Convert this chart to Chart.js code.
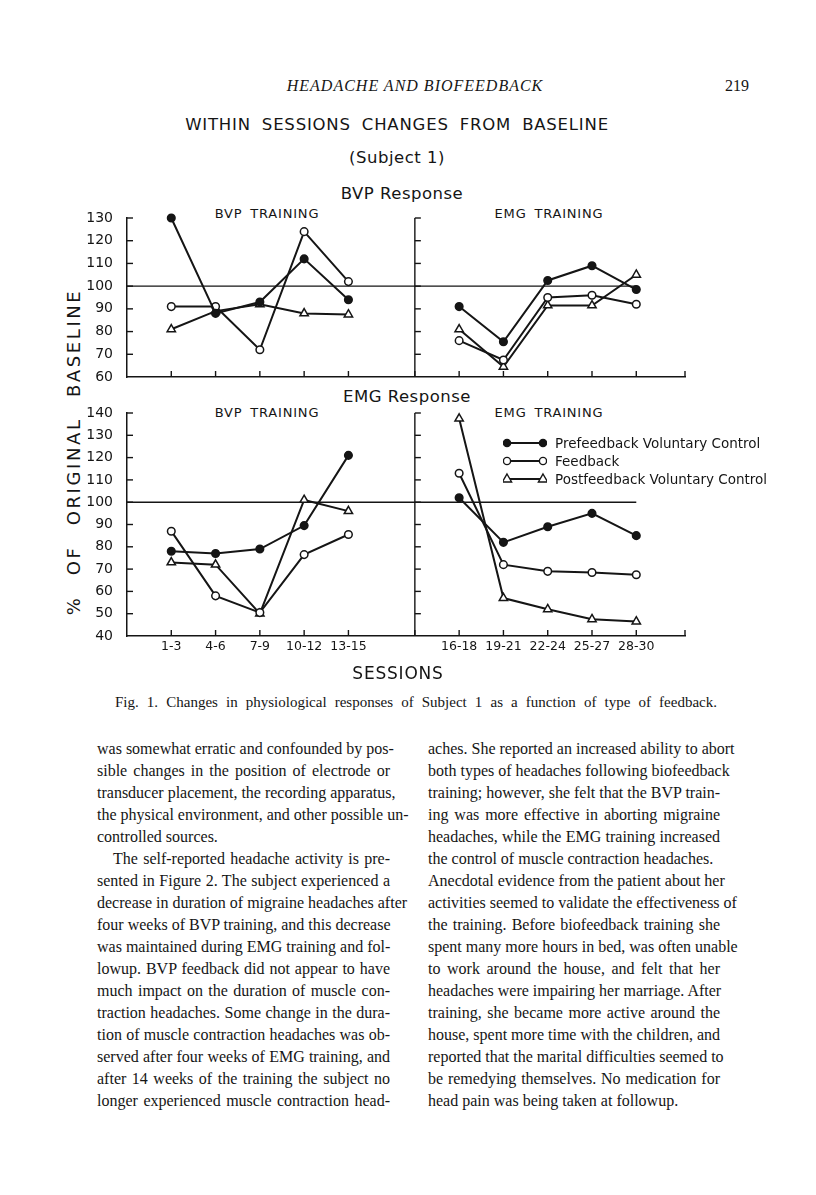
<!DOCTYPE html>
<html>
<head>
<meta charset="utf-8">
<script src="https://cdn.jsdelivr.net/npm/chart.js@4.4.1/dist/chart.umd.min.js"></script>
<style>
  body { margin: 0; background: #fff; }
  #page { position: relative; width: 816px; height: 1195px; overflow: hidden; color: #151515; font-family: "DejaVu Sans", sans-serif; }
  .t { position: absolute; white-space: nowrap; transform: translate(-50%, -50%); }
  .serif { font-family: "Liberation Serif", serif; }
  canvas { position: absolute; }
  .col { position: absolute; top: 738px; font-family: "Liberation Serif", serif; font-size: 16px; line-height: 22px; }
  .col div { white-space: nowrap; text-align: justify; text-align-last: justify; }
  .col div.end { text-align-last: left; }
  .col div.ind { padding-left: 16px; }
  .leg { position: absolute; left: 503px; font-size: 13.5px; }
  .leg div { height: 18px; display: flex; align-items: center; }
  .leg svg { margin-right: 8px; }
</style>
</head>
<body>
<div id="page">
  <div class="t serif" style="left:415px;top:86px;font-style:italic;font-size:16px;letter-spacing:1px;">HEADACHE AND BIOFEEDBACK</div>
  <div class="t serif" style="left:737px;top:86px;font-size:16px;">219</div>

  <div class="t" style="left:397px;top:124px;font-size:16.5px;letter-spacing:0.8px;word-spacing:5px;">WITHIN SESSIONS CHANGES FROM BASELINE</div>
  <div class="t" style="left:397px;top:157px;font-size:16.5px;letter-spacing:0.5px;">(Subject 1)</div>
  <div class="t" style="left:402px;top:193px;font-size:16.5px;letter-spacing:0.5px;">BVP Response</div>
  <div class="t" style="left:407px;top:396px;font-size:16.5px;letter-spacing:0.5px;">EMG Response</div>
  <div class="t" style="left:73px;top:452px;font-size:18px;letter-spacing:2.6px;word-spacing:12px;transform:translate(-50%,-50%) rotate(-90deg);">% OF ORIGINAL BASELINE</div>

  <div class="t" style="left:267px;top:213px;font-size:13px;letter-spacing:0.8px;word-spacing:3px;">BVP TRAINING</div>
  <div class="t" style="left:549px;top:213px;font-size:13px;letter-spacing:0.8px;word-spacing:3px;">EMG TRAINING</div>
  <div class="t" style="left:267px;top:412px;font-size:13px;letter-spacing:0.8px;word-spacing:3px;">BVP TRAINING</div>
  <div class="t" style="left:549px;top:412px;font-size:13px;letter-spacing:0.8px;word-spacing:3px;">EMG TRAINING</div>

  <canvas id="bvpChart" width="640" height="195" style="left:60px;top:195px;"></canvas>
  <canvas id="emgChart" width="640" height="270" style="left:60px;top:395px;"></canvas>

  <div class="leg" style="top:434px;" id="legend"></div>

  <div class="t" style="left:398px;top:673px;font-size:17px;letter-spacing:0.8px;">SESSIONS</div>
  <div class="serif" style="position:absolute;left:115px;top:694px;width:602px;font-size:15px;white-space:nowrap;text-align:justify;text-align-last:justify;">Fig. 1. Changes in physiological responses of Subject 1 as a function of type of feedback.</div>

  <div class="col" style="left:97px;width:293px;">
    <div>was somewhat erratic and confounded by pos-</div>
    <div>sible changes in the position of electrode or</div>
    <div>transducer placement, the recording apparatus,</div>
    <div>the physical environment, and other possible un-</div>
    <div class="end">controlled sources.</div>
    <div class="ind">The self-reported headache activity is pre-</div>
    <div>sented in Figure 2. The subject experienced a</div>
    <div>decrease in duration of migraine headaches after</div>
    <div>four weeks of BVP training, and this decrease</div>
    <div>was maintained during EMG training and fol-</div>
    <div>lowup. BVP feedback did not appear to have</div>
    <div>much impact on the duration of muscle con-</div>
    <div>traction headaches. Some change in the dura-</div>
    <div>tion of muscle contraction headaches was ob-</div>
    <div>served after four weeks of EMG training, and</div>
    <div>after 14 weeks of the training the subject no</div>
    <div>longer experienced muscle contraction head-</div>
  </div>
  <div class="col" style="left:428px;width:292px;">
    <div>aches. She reported an increased ability to abort</div>
    <div>both types of headaches following biofeedback</div>
    <div>training; however, she felt that the BVP train-</div>
    <div>ing was more effective in aborting migraine</div>
    <div>headaches, while the EMG training increased</div>
    <div class="end">the control of muscle contraction headaches.</div>
    <div>Anecdotal evidence from the patient about her</div>
    <div>activities seemed to validate the effectiveness of</div>
    <div>the training. Before biofeedback training she</div>
    <div>spent many more hours in bed, was often unable</div>
    <div>to work around the house, and felt that her</div>
    <div>headaches were impairing her marriage. After</div>
    <div>training, she became more active around the</div>
    <div>house, spent more time with the children, and</div>
    <div>reported that the marital difficulties seemed to</div>
    <div>be remedying themselves. No medication for</div>
    <div class="end">head pain was being taken at followup.</div>
  </div>
</div>

<script>
// sessions: 1-15 BVP training, 16-30 EMG training
const sessionLabels = ["1-3", "4-6", "7-9", "10-12", "13-15", "16-18", "19-21", "22-24", "25-27", "28-30"];
const seriesNames = ["Prefeedback Voluntary Control", "Feedback", "Postfeedback Voluntary Control"];

// BVP response, % of original baseline
const bvpPre      = [130, 88, 93, 112, 94,   91, 75.5, 102.5, 109, 98.5];
const bvpFeedback = [91, 91, 72, 124, 102,   76, 67.5, 95, 96, 92];
const bvpPost     = [81, 89, 92, 88, 87.5,   81, 64.5, 91.5, 91.5, 105];

// EMG response, % of original baseline
const emgPre      = [78, 77, 79, 89.5, 121,  102, 82, 89, 95, 85];
const emgFeedback = [87, 58, 50.5, 76.5, 85.5, 113, 72, 69, 68.5, 67.5];
const emgPost     = [73, 72, 50, 101, 96,    137.5, 57, 52, 47.5, 46.5];

const bvpTicks = [60, 70, 80, 90, 100, 110, 120, 130];
const emgTicks = [40, 50, 60, 70, 80, 90, 100, 110, 120, 130, 140];
const BASELINE = 100;

const INK = "#151515";
const PHASE_SPLIT = 5;           // first EMG-training block
const DIVIDER = 4 + 1.5;         // x position of the middle axis
const X_MIN = -1, X_MAX = 11.6;

function xPos(i) { return i < PHASE_SPLIT ? i : i + 1.5; }
const positions = sessionLabels.map((_, i) => xPos(i));

// one dataset per series, with a null between the two training phases
function toPoints(values) {
  const pts = [];
  values.forEach((v, i) => {
    if (i === PHASE_SPLIT) pts.push({ x: DIVIDER, y: null });
    pts.push({ x: xPos(i), y: v });
  });
  return pts;
}

const styles = [
  { pointStyle: "circle", pointRadius: 3.8, pointBackgroundColor: INK },
  { pointStyle: "circle", pointRadius: 3.8, pointBackgroundColor: "#fff" },
  { pointStyle: "triangle", pointRadius: 4.8, pointBackgroundColor: "#fff" }
];

function makeDatasets(list) {
  return list.map((vals, k) => Object.assign({
    label: seriesNames[k],
    data: toPoints(vals),
    borderColor: INK,
    borderWidth: 2,
    pointBorderColor: INK,
    pointBorderWidth: 1.5,
    spanGaps: false,
    clip: false,
    tension: 0
  }, styles[k]));
}

// axis ticks point inward, plus the middle axis and the 100% line
const frame = {
  id: "frame",
  beforeDatasetsDraw(chart) {
    const { ctx, chartArea: a, scales: { x, y } } = chart;
    const line = (x1, y1, x2, y2) => { ctx.beginPath(); ctx.moveTo(x1, y1); ctx.lineTo(x2, y2); ctx.stroke(); };
    ctx.save();
    ctx.strokeStyle = INK;
    ctx.lineWidth = 1.4;
    const xd = x.getPixelForValue(DIVIDER);
    line(xd, a.top, xd, a.bottom);
    y.ticks.forEach(t => {
      if (t.value === y.min) return;
      const py = y.getPixelForValue(t.value);
      line(a.left, py, a.left + 6, py);
      line(xd, py, xd + 6, py);
    });
    positions.concat([DIVIDER, X_MAX]).forEach(v => {
      const px = x.getPixelForValue(v);
      line(px, a.bottom, px, a.bottom - 6);
    });
    const yb = y.getPixelForValue(BASELINE);
    line(a.left, yb, x.getPixelForValue(positions[positions.length - 1]), yb);
    ctx.restore();
  }
};

function makeChart(id, list, yTicks, showLabels, top, xHeight) {
  return new Chart(document.getElementById(id), {
    type: "line",
    data: { datasets: makeDatasets(list) },
    options: {
      responsive: false,
      animation: false,
      layout: { padding: { top: top, right: 15, left: 0, bottom: 0 } },
      plugins: { legend: { display: false }, tooltip: { enabled: false } },
      scales: {
        x: {
          type: "linear",
          min: X_MIN,
          max: X_MAX,
          grid: { display: false, drawTicks: false },
          border: { color: INK, width: 1.5 },
          afterBuildTicks: s => { s.ticks = positions.map(v => ({ value: v })); },
          afterFit: s => { s.height = xHeight; s.paddingLeft = 0; s.paddingRight = 0; },
          ticks: {
            display: showLabels,
            autoSkip: false,
            maxRotation: 0,
            padding: 3,
            color: INK,
            font: { family: "DejaVu Sans", size: 12.5 },
            callback: (v, i) => sessionLabels[i]
          }
        },
        y: {
          min: yTicks[0],
          max: yTicks[yTicks.length - 1],
          grid: { display: false, drawTicks: false },
          border: { color: INK, width: 1.5 },
          afterBuildTicks: s => { s.ticks = yTicks.map(v => ({ value: v })); },
          // fixed width; no extra room above/below, the layout padding covers the labels
          afterFit: s => { s.width = 67; s.paddingTop = 0; s.paddingBottom = 0; },
          ticks: {
            padding: 14,
            color: INK,
            font: { family: "DejaVu Sans", size: 14 }
          }
        }
      }
    },
    plugins: [frame]
  });
}

makeChart("bvpChart", [bvpPre, bvpFeedback, bvpPost], bvpTicks, false, 23, 13);
makeChart("emgChart", [emgPre, emgFeedback, emgPost], emgTicks, true, 18, 29);

// legend, drawn with the same marker styles
const legend = document.getElementById("legend");
const marker = (k, cx) => {
  if (k === 2) return `<polygon points="${cx},${9 - 5} ${cx + 4.6},${9 + 3} ${cx - 4.6},${9 + 3}" fill="#fff" stroke="${INK}" stroke-width="1.4"/>`;
  return `<circle cx="${cx}" cy="9" r="3.6" fill="${k === 0 ? INK : "#fff"}" stroke="${INK}" stroke-width="1.4"/>`;
};
seriesNames.forEach((name, k) => {
  const row = document.createElement("div");
  row.innerHTML = `<svg width="44" height="18"><line x1="4" y1="9" x2="40" y2="9" stroke="${INK}" stroke-width="2"/>${marker(k, 4)}${marker(k, 40)}</svg><span>${name}</span>`;
  legend.appendChild(row);
});
</script>
</body>
</html>
